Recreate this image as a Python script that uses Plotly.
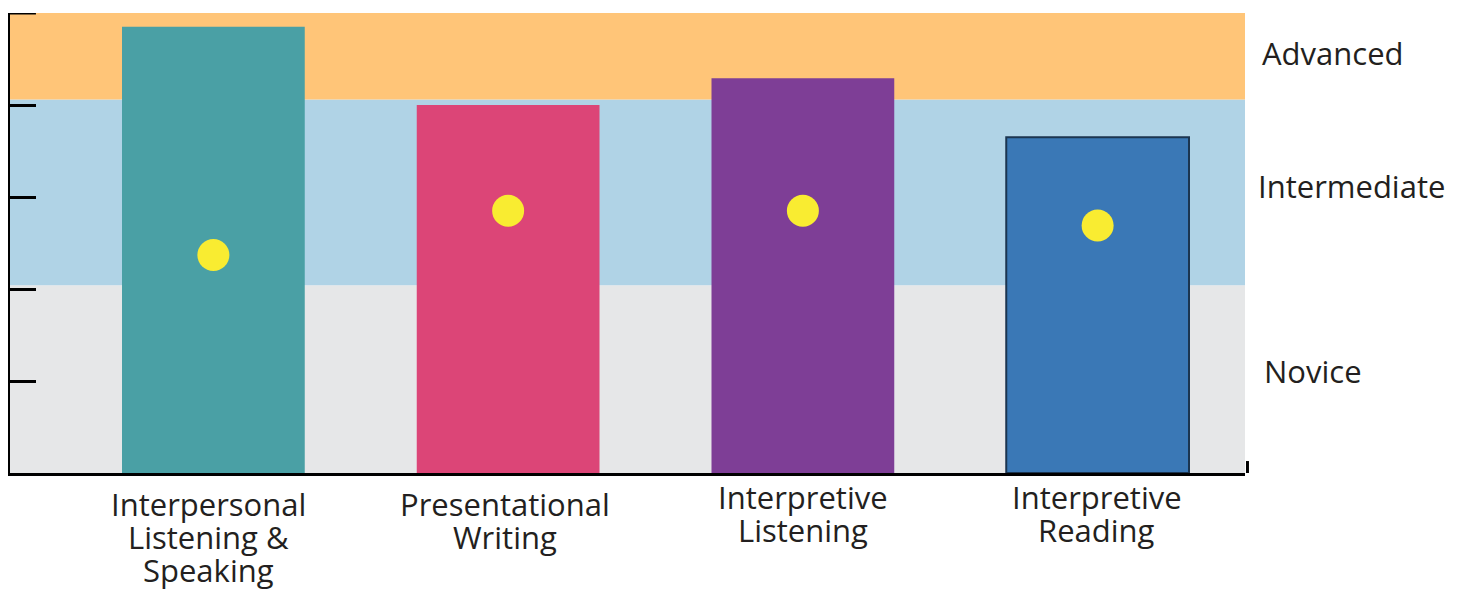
import plotly.graph_objects as go

# categories and values
categories = ["Interpersonal Listening & Speaking", "Presentational Writing",
              "Interpretive Listening", "Interpretive Reading"]
label_lines = [["Interpersonal", "Listening &", "Speaking"],
               ["Presentational", "Writing"],
               ["Interpretive", "Listening"],
               ["Interpretive", "Reading"]]
bar_values = [4.85, 4.0, 4.29, 3.65]
dot_values = [2.37, 2.85, 2.85, 2.69]
bar_colors = ["#4AA0A5", "#DC4577", "#7E3E96", "#3A78B6"]
bar_outline = ["rgba(0,0,0,0)", "rgba(0,0,0,0)", "rgba(0,0,0,0)", "#1B3550"]

levels = ["Novice", "Intermediate", "Advanced"]
level_bounds = [0, 2.04, 4.06, 5]
level_colors = ["#E6E7E8", "#B0D3E6", "#FFC578"]
level_label_y = [1.11, 3.12, 4.57]
level_label_shift = [1252, 1246, 1250]

# vertical position (paper units) of the first label line, and horizontal nudge
label_top = [-0.068, -0.067, -0.052, -0.052]
label_step = 0.0715
label_xshift = [-5, -3, 0, -1]

font = "Open Sans"
txt = "#231F20"
fsize = 31

fig = go.Figure()

fig.add_trace(go.Bar(
    x=categories, y=bar_values, width=0.62,
    marker=dict(color=bar_colors, line=dict(color=bar_outline, width=2)),
    showlegend=False, hoverinfo="x+y",
))
fig.add_trace(go.Scatter(
    x=categories, y=dot_values, mode="markers",
    marker=dict(color="#F9EC31", size=32),
    showlegend=False,
))

# background bands
for i in range(len(levels)):
    fig.add_shape(type="rect", xref="paper", yref="y", x0=0, x1=1,
                  y0=level_bounds[i], y1=level_bounds[i + 1],
                  fillcolor=level_colors[i], line_width=0, layer="below")
    fig.add_annotation(text=levels[i], xref="paper", yref="y", x=0, xshift=level_label_shift[i],
                       y=level_label_y[i], xanchor="left", yanchor="middle", showarrow=False,
                       font=dict(family=font, size=fsize, color=txt))

# small end tick on the bottom axis, and the top tick of the value axis
fig.add_shape(type="line", xref="paper", yref="y", x0=1.002, x1=1.002, y0=0, y1=0.13,
              line=dict(color="black", width=3))
fig.add_shape(type="line", xref="paper", yref="y", x0=0, x1=0.021, y0=5, y1=5,
              line=dict(color="black", width=3))

# category labels, one annotation per line to keep the tight line spacing
for i, lines in enumerate(label_lines):
    for j, line in enumerate(lines):
        fig.add_annotation(text=line, x=categories[i], xref="x", yref="paper",
                           y=label_top[i] - j * label_step, xshift=label_xshift[i],
                           showarrow=False, yanchor="middle",
                           font=dict(family=font, size=fsize, color=txt))

fig.update_layout(
    width=1465, height=589,
    margin=dict(l=2, r=228, t=5, b=124),
    paper_bgcolor="white", plot_bgcolor="white",
    font=dict(family=font, color=txt),
)
fig.update_xaxes(range=[-0.69, 3.5], showticklabels=False, showgrid=False,
                 showline=True, linecolor="black", linewidth=3, ticks="", zeroline=False)
fig.update_yaxes(range=[0, 5], tickvals=[0, 1, 2, 3, 4, 5], showticklabels=False,
                 showgrid=False, zeroline=False, showline=True, linecolor="black", linewidth=3,
                 ticks="inside", ticklen=26, tickwidth=3, tickcolor="black")

fig.write_html("out.html")
